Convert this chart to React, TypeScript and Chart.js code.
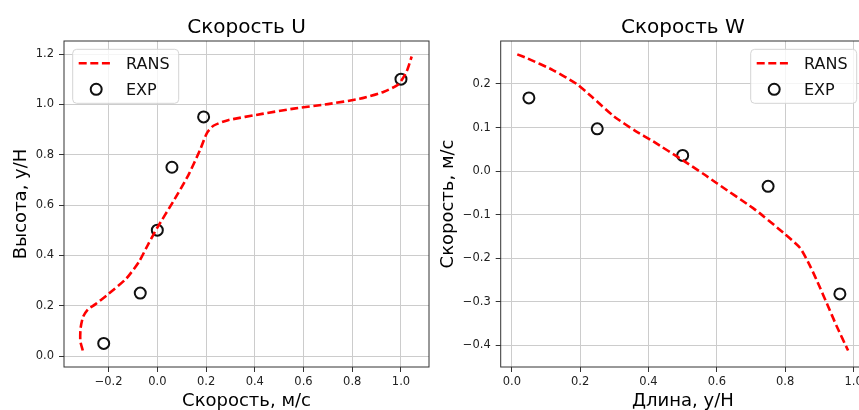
import React, { useEffect, useRef } from "react";
import { Chart, registerables } from "chart.js";

Chart.register(...registerables);

// ---------- data: left chart (Скорость U) ----------
const uRansX = [-0.306, -0.316, -0.315, -0.305, -0.285, -0.255, -0.2, -0.126, -0.075, -0.037, 0.0, 0.066, 0.127, 0.175, 0.203, 0.23, 0.29, 0.43, 0.56, 0.7, 0.83, 0.93, 0.99, 1.023, 1.044];
const uRansY = [0.022, 0.06, 0.11, 0.155, 0.185, 0.205, 0.247, 0.309, 0.375, 0.445, 0.51, 0.615, 0.718, 0.818, 0.885, 0.915, 0.937, 0.962, 0.983, 1.001, 1.022, 1.05, 1.08, 1.13, 1.19];
const uExpX = [-0.22, -0.07, 0.0, 0.06, 0.19, 1.0];
const uExpY = [0.05, 0.25, 0.5, 0.75, 0.95, 1.1];
const uXTicks = [-0.2, 0.0, 0.2, 0.4, 0.6, 0.8, 1.0];
const uYTicks = [0.0, 0.2, 0.4, 0.6, 0.8, 1.0, 1.2];

// ---------- data: right chart (Скорость W) ----------
const wRansX = [0.016, 0.045, 0.12, 0.19, 0.235, 0.3, 0.36, 0.414, 0.502, 0.56, 0.6, 0.706, 0.737, 0.795, 0.843, 0.873, 0.902, 0.922, 0.95, 0.984];
const wRansY = [0.268, 0.259, 0.232, 0.2, 0.17, 0.125, 0.093, 0.068, 0.024, -0.006, -0.028, -0.085, -0.104, -0.142, -0.176, -0.218, -0.268, -0.304, -0.355, -0.412];
const wExpX = [0.05, 0.25, 0.5, 0.75, 0.96];
const wExpY = [0.168, 0.097, 0.036, -0.035, -0.282];
const wXTicks = [0.0, 0.2, 0.4, 0.6, 0.8, 1.0];
const wYTicks = [-0.4, -0.3, -0.2, -0.1, 0.0, 0.1, 0.2];

const FONT = "'DejaVu Sans', 'Liberation Sans', sans-serif";

function fmt(v: number): string {
  const s = Math.abs(v).toFixed(1);
  return v < -1e-9 ? "\u2212" + s : s;
}

function pts(xs: number[], ys: number[]) {
  return xs.map((x, i) => ({ x, y: ys[i] }));
}

const frameLegendPlugin = {
  id: "frameLegend",
  afterDatasetsDraw(chart: any, _args: any, opts: any) {
    const { ctx, chartArea: a } = chart;
    ctx.save();
    ctx.strokeStyle = "#333333";
    ctx.lineWidth = 1;
    ctx.setLineDash([]);
    ctx.strokeRect(a.left, a.top, a.right - a.left, a.bottom - a.top);

    const bw = 106;
    const bh = 54;
    const bx = opts.side === "right" ? a.right - 8.3 - bw : a.left + 8.7;
    const by = a.top + 8.3;
    ctx.beginPath();
    if ((ctx as any).roundRect) (ctx as any).roundRect(bx, by, bw, bh, 4);
    else ctx.rect(bx, by, bw, bh);
    ctx.fillStyle = "rgba(255,255,255,0.8)";
    ctx.fill();
    ctx.strokeStyle = "#d4d4d4";
    ctx.lineWidth = 1;
    ctx.stroke();

    chart.data.datasets.forEach((ds: any, i: number) => {
      const rowY = by + (i === 0 ? 14 : 40);
      if (ds.showLine) {
        ctx.beginPath();
        ctx.strokeStyle = ds.borderColor;
        ctx.lineWidth = ds.borderWidth;
        ctx.setLineDash(ds.borderDash || []);
        ctx.moveTo(bx + 6, rowY);
        ctx.lineTo(bx + 40, rowY);
        ctx.stroke();
        ctx.setLineDash([]);
      } else {
        ctx.beginPath();
        ctx.strokeStyle = ds.borderColor;
        ctx.lineWidth = ds.borderWidth;
        ctx.arc(bx + 23.5, rowY, ds.pointRadius, 0, Math.PI * 2);
        ctx.stroke();
      }
      ctx.fillStyle = "#111111";
      ctx.font = "16px " + FONT;
      ctx.textAlign = "left";
      ctx.textBaseline = "alphabetic";
      ctx.fillText(ds.label, bx + 53.3, rowY + 6);
    });
    ctx.restore();
  },
};

function makeConfig(p: {
  title: string;
  xTitle: string;
  yTitle: string;
  ransX: number[];
  ransY: number[];
  expX: number[];
  expY: number[];
  xTicks: number[];
  yTicks: number[];
  xMin: number;
  xMax: number;
  yMin: number;
  yMax: number;
  yAxisWidth: number;
  yTitlePad: number;
  rightPad: number;
  side: string;
}): any {
  const tickFont = { family: FONT, size: 11.5 };
  const gridCommon = {
    color: "#cccccc",
    lineWidth: 1,
    tickColor: "#333333",
    tickLength: 5,
    drawTicks: true,
  };
  return {
    type: "scatter",
    data: {
      datasets: [
        {
          label: "RANS",
          data: pts(p.ransX, p.ransY),
          showLine: true,
          borderColor: "#ff0000",
          backgroundColor: "#ff0000",
          borderWidth: 2.6,
          borderDash: [8, 3.6],
          pointRadius: 0,
          pointHoverRadius: 0,
          tension: 0.2,
          fill: false,
        },
        {
          label: "EXP",
          data: pts(p.expX, p.expY),
          showLine: false,
          borderColor: "#111111",
          backgroundColor: "rgba(0,0,0,0)",
          borderWidth: 2,
          pointRadius: 5.5,
          pointStyle: "circle",
        },
      ],
    },
    options: {
      responsive: false,
      animation: false,
      devicePixelRatio: 1,
      layout: { padding: { left: 0, right: p.rightPad, top: 0, bottom: 0 } },
      plugins: {
        legend: { display: false },
        tooltip: { enabled: false },
        title: {
          display: true,
          text: p.title,
          fullSize: false,
          color: "#000000",
          font: { family: FONT, size: 20, weight: "normal", lineHeight: 1.2 },
          padding: { top: 16, bottom: 1 },
        },
        frameLegend: { side: p.side },
      },
      scales: {
        x: {
          type: "linear",
          min: p.xMin,
          max: p.xMax,
          grid: gridCommon,
          border: { display: false },
          afterBuildTicks: (s: any) => {
            s.ticks = p.xTicks.map((v) => ({ value: v }));
          },
          afterFit: (s: any) => {
            s.height = 43;
          },
          ticks: {
            autoSkip: false,
            maxRotation: 0,
            padding: 3,
            color: "#222222",
            font: tickFont,
            callback: (v: any) => fmt(Number(v)),
          },
          title: {
            display: true,
            text: p.xTitle,
            color: "#000000",
            font: { family: FONT, size: 18, lineHeight: 1 },
            padding: { top: 0, bottom: 0 },
          },
        },
        y: {
          type: "linear",
          min: p.yMin,
          max: p.yMax,
          grid: gridCommon,
          border: { display: false },
          afterBuildTicks: (s: any) => {
            s.ticks = p.yTicks.map((v) => ({ value: v }));
          },
          afterFit: (s: any) => {
            s.width = p.yAxisWidth;
          },
          ticks: {
            autoSkip: false,
            padding: 5,
            color: "#222222",
            font: tickFont,
            callback: (v: any) => fmt(Number(v)),
          },
          title: {
            display: true,
            text: p.yTitle,
            color: "#000000",
            font: { family: FONT, size: 18, lineHeight: 1 },
            padding: { top: p.yTitlePad, bottom: 0 },
          },
        },
      },
    },
    plugins: [frameLegendPlugin],
  };
}

function ChartCanvas(props: { config: any; left: number; width: number; height: number }) {
  const ref = useRef<HTMLCanvasElement | null>(null);
  useEffect(() => {
    if (!ref.current) return;
    const chart = new Chart(ref.current, props.config);
    return () => chart.destroy();
  }, []);
  return (
    <canvas
      ref={ref}
      width={props.width}
      height={props.height}
      style={{ position: "absolute", left: props.left, top: 0, width: props.width, height: props.height }}
    />
  );
}

export default function App() {
  const leftCfg = makeConfig({
    title: "Скорость U",
    xTitle: "Скорость, м/с",
    yTitle: "Высота, y/H",
    ransX: uRansX,
    ransY: uRansY,
    expX: uExpX,
    expY: uExpY,
    xTicks: uXTicks,
    yTicks: uYTicks,
    xMin: -0.383,
    xMax: 1.115,
    yMin: -0.0437,
    yMax: 1.2517,
    yAxisWidth: 64,
    yTitlePad: 12,
    rightPad: 11,
    side: "left",
  });
  const rightCfg = makeConfig({
    title: "Скорость W",
    xTitle: "Длина, y/H",
    yTitle: "Скорость, м/с",
    ransX: wRansX,
    ransY: wRansY,
    expX: wExpX,
    expY: wExpY,
    xTicks: wXTicks,
    yTicks: wYTicks,
    xMin: -0.0325,
    xMax: 1.0335,
    yMin: -0.4498,
    yMax: 0.2987,
    yAxisWidth: 64.7,
    yTitlePad: 3,
    rightPad: 21,
    side: "right",
  });
  return (
    <div
      style={{
        position: "absolute",
        left: 0,
        top: 0,
        width: 859,
        height: 410,
        overflow: "hidden",
        background: "#ffffff",
      }}
    >
      <ChartCanvas config={leftCfg} left={0} width={440} height={410} />
      <ChartCanvas config={rightCfg} left={436} width={450} height={410} />
    </div>
  );
}
